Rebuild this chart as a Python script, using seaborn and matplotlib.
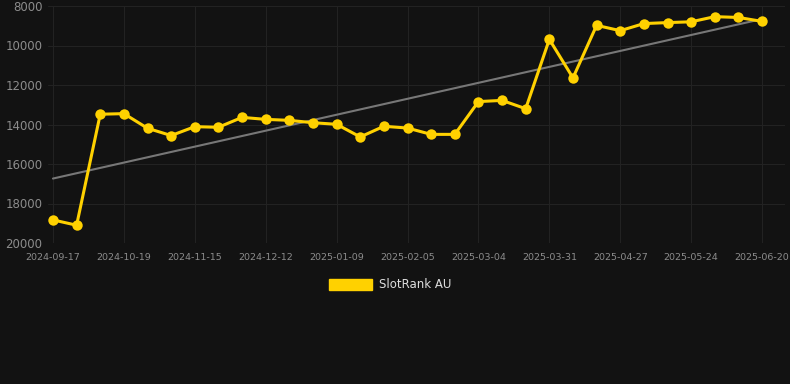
import numpy as np
import pandas as pd
import matplotlib
matplotlib.use("Agg")
import matplotlib.pyplot as plt
import seaborn as sns

dates = ['2024-09-17', '2024-09-28', '2024-10-08', '2024-10-19', '2024-10-28', '2024-11-06',
         '2024-11-15', '2024-11-24', '2024-12-03', '2024-12-12', '2024-12-21', '2024-12-31',
         '2025-01-09', '2025-01-18', '2025-01-27', '2025-02-05', '2025-02-14', '2025-02-23',
         '2025-03-04', '2025-03-13', '2025-03-22', '2025-03-31', '2025-04-09', '2025-04-18',
         '2025-04-27', '2025-05-06', '2025-05-15', '2025-05-24', '2025-06-02', '2025-06-11',
         '2025-06-20']
ranks = [18830, 19100, 13480, 13450, 14190, 14560, 14110, 14140, 13640, 13740, 13790, 13910,
         13990, 14630, 14090, 14180, 14500, 14500, 12840, 12780, 13200, 9690, 11640, 8980,
         9250, 8890, 8840, 8800, 8540, 8580, 8780]
y_ticks = [8000, 10000, 12000, 14000, 16000, 18000, 20000]
label_every = 3

BG = '#121212'
GOLD = '#FFD100'

df = pd.DataFrame({'date': dates, 'rank': ranks})
df['idx'] = np.arange(len(df))

# linear trend over the whole period
slope, icpt = np.polyfit(df['idx'], df['rank'], 1)
df['trend'] = slope * df['idx'] + icpt

sns.set_style('dark')
plt.rcParams['font.family'] = ['DejaVu Sans']

fig = plt.figure(figsize=(7.9, 3.84), dpi=100, facecolor=BG)
ax = fig.add_axes([48 / 790, 1 - 243 / 384, 737 / 790, 237 / 384])
ax.set_facecolor(BG)

sns.lineplot(x='idx', y='trend', data=df, color='#777777', linewidth=1.5, ax=ax, zorder=2)
sns.lineplot(x='idx', y='rank', data=df, color=GOLD, linewidth=2.2, marker='o',
             markersize=7.5, markeredgewidth=0, ax=ax, zorder=3, label='SlotRank AU')

ax.set_ylim(20000, 8000)
ax.set_xlim(-0.21, 30.97)
ax.set_yticks(y_ticks)
ax.set_yticklabels([str(t) for t in y_ticks])
tick_pos = df['idx'][::label_every]
ax.set_xticks(tick_pos)
ax.set_xticklabels(df['date'][::label_every])

ax.grid(True, color='#222222', linewidth=0.8)
for s in ax.spines.values():
    s.set_visible(False)
ax.tick_params(axis='y', colors='#8c8c8c', labelsize=8.5, length=0, pad=4)
ax.tick_params(axis='x', colors='#8c8c8c', labelsize=6.8, length=4, width=0.8, pad=3)
for t in ax.xaxis.get_ticklines():
    t.set_color('#262626')
ax.set_xlabel('')
ax.set_ylabel('')

ax.legend_.remove()
handle = plt.Rectangle((0, 0), 1, 1, color=GOLD)
fig.legend([handle], ['SlotRank AU'], loc='center', bbox_to_anchor=(390 / 790, 1 - 285 / 384),
           frameon=False, handlelength=3.6, handleheight=1.1, handletextpad=0.6,
           labelcolor='#dddddd', fontsize=8.5)

plt.savefig('out.png', dpi=100, facecolor=BG)
